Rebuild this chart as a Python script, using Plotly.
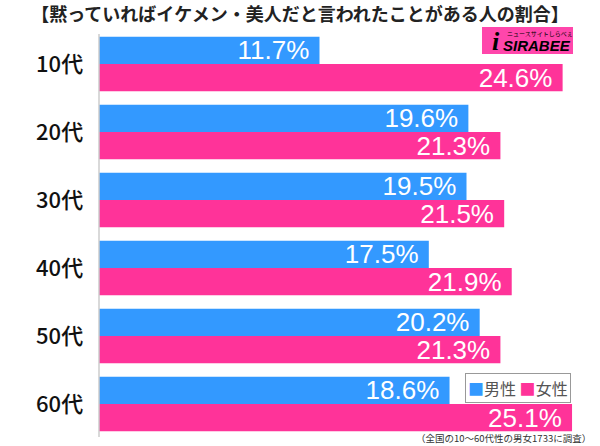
import plotly.graph_objects as go

categories = ["10代", "20代", "30代", "40代", "50代", "60代"]
male = [11.7, 19.6, 19.5, 17.5, 20.2, 18.6]
female = [24.6, 21.3, 21.5, 21.9, 21.3, 25.1]
series_names = ["男性", "女性"]
colors = ["#3399ff", "#ff3399"]
title_text = "【黙っていればイケメン・美人だと言われたことがある人の割合】"
note_text = "（全国の10～60代性の男女1733に調査）"

W, H = 600, 446
L, R, T, B = 99, 11, 30, 8
pw, ph = W - L - R, H - T - B

def px(x):
    return (x - L) / pw

def py(y):
    return (H - B - y) / ph

fig = go.Figure()
for name, vals, col in [(series_names[0], male, colors[0]), (series_names[1], female, colors[1])]:
    fig.add_trace(go.Bar(
        y=categories, x=vals, name=name, orientation="h",
        marker=dict(color=col, line=dict(width=0)),
        text=[f"{v:.1f}%\u00a0" for v in vals],
        textposition="inside", insidetextanchor="end",
        constraintext="none", textangle=0,
        textfont=dict(color="white", size=26, family="Liberation Sans"),
        hoverinfo="skip",
    ))

fig.update_layout(
    width=W, height=H,
    margin=dict(l=L, r=R, t=T, b=B),
    paper_bgcolor="white", plot_bgcolor="white",
    barmode="group", bargap=0.2, bargroupgap=0,
    showlegend=False,
    xaxis=dict(range=[0, 26], visible=False, fixedrange=True),
    yaxis=dict(
        autorange="reversed", showgrid=False, zeroline=False,
        showline=False, ticks="", ticklen=0, fixedrange=True,
        tickfont=dict(size=22, family="Noto Sans CJK JP", color="#111111", weight=500),
        ticksuffix="   ",
    ),
    title=dict(
        text="<b>" + title_text + "</b>", xref="container", x=0.5, xanchor="center",
        yref="container", y=1 - 15 / H, yanchor="middle",
        font=dict(size=18, family="Noto Sans CJK JP", color="#222222"),
    ),
    font=dict(family="Noto Sans CJK JP"),
)

# axis line
fig.add_shape(type="line", xref="paper", yref="paper", x0=0, x1=0, y0=py(34), y1=py(437),
              line=dict(color="#cccccc", width=1.5))

# legend box
legend_text = (f"<span style='color:{colors[0]}'>■</span>{series_names[0]} "
               f"<span style='color:{colors[1]}'>■</span>{series_names[1]}")
fig.add_annotation(xref="paper", yref="paper", x=px(571), y=py(373), text=legend_text,
                   showarrow=False, xanchor="right", yanchor="top",
                   font=dict(size=16, color="#555555", family="Noto Sans CJK JP"),
                   bordercolor="#999999", borderwidth=1, borderpad=2, bgcolor="white")

# logo
fig.add_shape(type="rect", xref="paper", yref="paper", x0=px(482), x1=px(573), y0=py(54), y1=py(27),
              fillcolor="#ff46ab", line=dict(width=0), layer="above")
fig.add_annotation(xref="paper", yref="paper", x=px(496), y=py(41), text="<b><i>i</i></b>",
                   showarrow=False, font=dict(size=26, color="black", family="Liberation Serif"),
                   xanchor="center", yanchor="middle")
fig.add_annotation(xref="paper", yref="paper", x=px(537), y=py(46), text="<b><i>SIRABEE</i></b>",
                   showarrow=False, font=dict(size=15, color="black", family="Liberation Sans"),
                   xanchor="center", yanchor="middle")
fig.add_annotation(xref="paper", yref="paper", x=px(540), y=py(34), text="ニュースサイトしらべぇ",
                   showarrow=False, font=dict(size=6, color="black", family="Noto Sans CJK JP"),
                   xanchor="center", yanchor="middle")

# footnote
fig.add_annotation(xref="paper", yref="paper", x=px(592), y=py(446), text=note_text,
                   showarrow=False, font=dict(size=9.5, color="#333333", family="Noto Sans CJK JP"),
                   xanchor="right", yanchor="bottom", borderpad=0)

fig.write_html("out.html", config={"displayModeBar": False},
               post_script="document.body.style.margin='0';")
